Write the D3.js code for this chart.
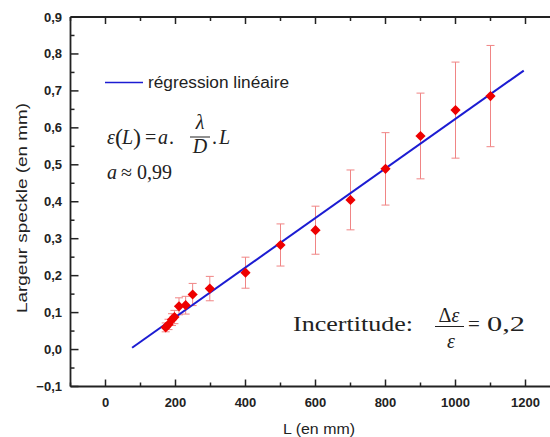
<!DOCTYPE html>
<html><head><meta charset="utf-8">
<script src="https://cdn.jsdelivr.net/npm/d3@7"></script>
<style>body{margin:0;background:#fff}svg{display:block}</style>
</head><body>
<svg id="c" width="550" height="437"></svg>
<script>
const L = [172, 180, 190, 197, 210, 229, 249, 298, 400, 500, 600, 700, 800, 900, 1000, 1100];
const largeur = [0.060, 0.068, 0.081, 0.088, 0.117, 0.120, 0.149, 0.165, 0.208, 0.283, 0.323, 0.405, 0.489, 0.578, 0.648, 0.686];
const erreur = [0.012, 0.014, 0.016, 0.018, 0.023, 0.024, 0.030, 0.033, 0.042, 0.057, 0.065, 0.081, 0.098, 0.116, 0.130, 0.137];
const regL = [76, 1195];
const regY = [0.005, 0.755];
const xTicks = [0, 200, 400, 600, 800, 1000, 1200];
const xMinor = [-100, 100, 300, 500, 700, 900, 1100, 1300];
const yTicks = [-0.1, 0, 0.1, 0.2, 0.3, 0.4, 0.5, 0.6, 0.7, 0.8, 0.9];
const yMinor = [-0.05, 0.05, 0.15, 0.25, 0.35, 0.45, 0.55, 0.65, 0.75, 0.85];

const svg = d3.select("#c");
const x = d3.scaleLinear().domain([-100, 1300]).range([70.5, 560.5]);
const y = d3.scaleLinear().domain([-0.1, 0.9]).range([386.5, 17]);
const axisCol = "#222";
const sans = "'Liberation Sans', Arial, sans-serif";
const serif = "'Liberation Serif', 'Times New Roman', serif";
const fmt = v => d3.format(".1f")(v).replace(".", ",").replace("-0,0","0,0");

const g = svg.append("g");
g.append("line").attr("x1", x(-100)).attr("x2", 560).attr("y1", y(-0.1)).attr("y2", y(-0.1)).attr("stroke", axisCol).attr("stroke-width", 1.8);
g.append("line").attr("x1", x(-100)).attr("x2", 560).attr("y1", y(0.9)).attr("y2", y(0.9)).attr("stroke", axisCol).attr("stroke-width", 1.8);
g.append("line").attr("x1", x(-100)).attr("x2", x(-100)).attr("y1", y(0.9)).attr("y2", y(-0.1)).attr("stroke", axisCol).attr("stroke-width", 1.8);

xTicks.forEach(v => {
  g.append("line").attr("x1", x(v)).attr("x2", x(v)).attr("y1", y(-0.1)).attr("y2", y(-0.1) - 7).attr("stroke", axisCol).attr("stroke-width", 1.5);
  g.append("line").attr("x1", x(v)).attr("x2", x(v)).attr("y1", y(0.9)).attr("y2", y(0.9) + 7).attr("stroke", axisCol).attr("stroke-width", 1.5);
  g.append("text").attr("x", x(v)).attr("y", 407).attr("text-anchor", "middle")
    .attr("font-family", sans).attr("font-weight", "bold").attr("font-size", 13).attr("fill", axisCol).text(v);
});
xMinor.forEach(v => {
  g.append("line").attr("x1", x(v)).attr("x2", x(v)).attr("y1", y(-0.1)).attr("y2", y(-0.1) - 4).attr("stroke", axisCol).attr("stroke-width", 1.5);
  g.append("line").attr("x1", x(v)).attr("x2", x(v)).attr("y1", y(0.9)).attr("y2", y(0.9) + 4).attr("stroke", axisCol).attr("stroke-width", 1.5);
});
yTicks.forEach(v => {
  g.append("line").attr("x1", x(-100)).attr("x2", x(-100) + 8).attr("y1", y(v)).attr("y2", y(v)).attr("stroke", axisCol).attr("stroke-width", 1.5);
  g.append("text").attr("x", 62).attr("y", y(v) + 4.5).attr("text-anchor", "end")
    .attr("font-family", sans).attr("font-weight", "bold").attr("font-size", 13).attr("fill", axisCol).text(fmt(v));
});
yMinor.forEach(v => {
  g.append("line").attr("x1", x(-100)).attr("x2", x(-100) + 4).attr("y1", y(v)).attr("y2", y(v)).attr("stroke", axisCol).attr("stroke-width", 1.5);
});

svg.append("text").attr("x", 283).attr("y", 434)
  .attr("font-family", sans).attr("font-size", 15).attr("fill", axisCol)
  .attr("textLength", 72).attr("lengthAdjust", "spacingAndGlyphs").text("L (en mm)");
svg.append("text").attr("transform", "translate(27,313) rotate(-90)")
  .attr("font-family", sans).attr("font-size", 15).attr("fill", axisCol)
  .attr("textLength", 210).attr("lengthAdjust", "spacingAndGlyphs").text("Largeur speckle (en mm)");

const eb = svg.append("g").attr("stroke", "#f08585").attr("stroke-width", 1);
L.forEach((l, i) => {
  const cx = x(l), t = y(largeur[i] + erreur[i]), b = y(largeur[i] - erreur[i]);
  eb.append("line").attr("x1", cx).attr("x2", cx).attr("y1", t).attr("y2", b);
  eb.append("line").attr("x1", cx - 4).attr("x2", cx + 4).attr("y1", t).attr("y2", t);
  eb.append("line").attr("x1", cx - 4).attr("x2", cx + 4).attr("y1", b).attr("y2", b);
});

svg.append("line").attr("x1", x(regL[0])).attr("y1", y(regY[0])).attr("x2", x(regL[1])).attr("y2", y(regY[1]))
  .attr("stroke", "#1c1cd2").attr("stroke-width", 2);

const sym = d3.symbol().type(d3.symbolSquare).size(52);
svg.append("g").selectAll("path").data(L).join("path")
  .attr("d", sym).attr("transform", (d, i) => `translate(${x(d)},${y(largeur[i])}) rotate(45)`)
  .attr("fill", "#ee0000");

svg.append("line").attr("x1", 105).attr("x2", 143).attr("y1", 82.5).attr("y2", 82.5).attr("stroke", "#1c1cd2").attr("stroke-width", 1.5);
svg.append("text").attr("x", 148).attr("y", 88).attr("font-family", sans)
  .attr("font-size", 16).attr("fill", axisCol).attr("textLength", 141).attr("lengthAdjust", "spacingAndGlyphs").text("régression linéaire");

const eq = svg.append("g").attr("font-family", serif).attr("fill", axisCol);
const put = (tx, xx, yy, fs, it, anchor) => eq.append("text").attr("x", xx).attr("y", yy).attr("font-size", fs)
  .attr("font-style", it ? "italic" : "normal").attr("text-anchor", anchor || "start").text(tx);
put("ε", 107, 144, 20, true);
put("(", 115, 145, 24, false);
put("L", 122, 144, 20, true);
put(")", 133, 145, 24, false);
put("=", 145, 144, 20, false);
put("a", 158, 144, 20, true);
put(".", 169, 144, 20, false);
put("λ", 200, 129, 20, true, "middle");
eq.append("line").attr("x1", 190).attr("x2", 210).attr("y1", 137).attr("y2", 137).attr("stroke", axisCol).attr("stroke-width", 1);
put("D", 200, 153, 20, true, "middle");
put(".", 212, 144, 20, false);
put("L", 219, 144, 20, true);
put("a", 107, 179, 20, true);
put("≈ 0,99", 121, 179, 20, false);

const inc = svg.append("g").attr("font-family", serif).attr("fill", axisCol);
inc.append("text").attr("x", 293).attr("y", 331).attr("font-size", 21).attr("textLength", 120).attr("lengthAdjust", "spacingAndGlyphs").text("Incertitude:");
const num = inc.append("text").attr("x", 449).attr("y", 322).attr("font-size", 20).attr("text-anchor", "middle");
num.append("tspan").text("Δ");
num.append("tspan").attr("font-style", "italic").text("ε");
inc.append("line").attr("x1", 435).attr("x2", 464).attr("y1", 326.5).attr("y2", 326.5).attr("stroke", axisCol).attr("stroke-width", 1);
inc.append("text").attr("x", 451).attr("y", 348).attr("font-size", 20).attr("font-style", "italic").attr("text-anchor", "middle").text("ε");
inc.append("text").attr("x", 468).attr("y", 331).attr("font-size", 21).text("=");
inc.append("text").attr("x", 487).attr("y", 331).attr("font-size", 21).attr("textLength", 38).attr("lengthAdjust", "spacingAndGlyphs").text("0,2");
</script>
</body></html>
